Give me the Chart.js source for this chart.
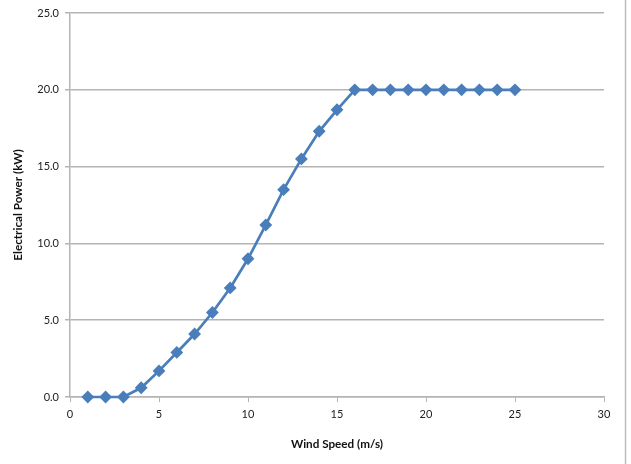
<!DOCTYPE html>
<html>
<head>
<meta charset="utf-8">
<script src="https://cdn.jsdelivr.net/npm/chart.js@4"></script>
<style>
  body { margin: 0; background: #fff; }
  #wrap { width: 631px; height: 464px; }
</style>
</head>
<body>
<div id="wrap"><canvas id="powerChart" width="631" height="464"></canvas></div>
<script>
// Power curve data
const windSpeed = [1, 2, 3, 4, 5, 6, 7, 8, 9, 10, 11, 12, 13, 14, 15, 16, 17, 18, 19, 20, 21, 22, 23, 24, 25];
const powerKw = [0, 0, 0, 0.6, 1.7, 2.9, 4.1, 5.5, 7.1, 9.0, 11.2, 13.5, 15.5, 17.3, 18.7, 20, 20, 20, 20, 20, 20, 20, 20, 20, 20];
const xLabel = 'Wind Speed (m/s)';
const yLabel = 'Electrical Power (kW)';

const points = windSpeed.map((x, i) => ({ x: x, y: powerKw[i] }));
const lineColor = 'rgb(74, 126, 187)';
const gridColor = 'rgb(180, 180, 180)';
const fontFamily = 'Lato, "Open Sans", sans-serif';

const powerChart = document.getElementById('powerChart');
new Chart(powerChart, {
    type: 'scatter',
    data: {
        datasets: [{
            label: 'Power',
            data: points,
            showLine: true,
            clip: false,
            borderColor: lineColor,
            backgroundColor: lineColor,
            borderWidth: 2.7,
            pointStyle: 'rectRot',
            pointRadius: 4.5,
            pointHoverRadius: 4.5,
            tension: 0
        }]
    },
    plugins: [{
        id: 'frame',
        beforeDraw: (chart) => {
            const ctx = chart.ctx;
            ctx.save();
            ctx.fillStyle = '#fff';
            ctx.fillRect(0, 0, chart.width, chart.height);
            ctx.strokeStyle = 'rgb(190, 190, 190)';
            ctx.lineWidth = 1.5;
            ctx.beginPath();
            ctx.moveTo(625.5, 0);
            ctx.lineTo(625.5, chart.height);
            ctx.stroke();
            ctx.restore();
        }
    }],
    options: {
        responsive: false,
        animation: false,
        layout: {
            padding: { top: 13, right: 27, bottom: 9, left: 11 }
        },
        plugins: {
            legend: { display: false },
            tooltip: { enabled: false }
        },
        scales: {
            x: {
                type: 'linear',
                min: 0,
                max: 30,
                afterFit: (scale) => { scale.height = 58; },
                ticks: {
                    stepSize: 5,
                    padding: 6,
                    color: '#222',
                    font: { family: fontFamily, size: 11 }
                },
                grid: {
                    drawOnChartArea: false,
                    drawTicks: true,
                    tickLength: 5,
                    color: gridColor
                },
                border: { color: gridColor, width: 1.5 },
                title: {
                    display: true,
                    text: xLabel,
                    color: '#111',
                    padding: { top: 0, bottom: 4 },
                    font: { family: fontFamily, size: 11.7, weight: 'bold' }
                }
            },
            y: {
                min: 0,
                max: 25,
                afterFit: (scale) => { scale.width = 59; },
                ticks: {
                    stepSize: 5,
                    padding: 6,
                    color: '#222',
                    font: { family: fontFamily, size: 11 },
                    callback: (v) => v.toFixed(1)
                },
                grid: {
                    color: gridColor,
                    lineWidth: 1.5,
                    tickLength: 5
                },
                border: { color: gridColor, width: 1.5 },
                title: {
                    display: true,
                    text: yLabel,
                    color: '#111',
                    padding: { top: 0, bottom: 4 },
                    font: { family: fontFamily, size: 11.7, weight: 'bold' }
                }
            }
        }
    }
});
</script>
</body>
</html>
